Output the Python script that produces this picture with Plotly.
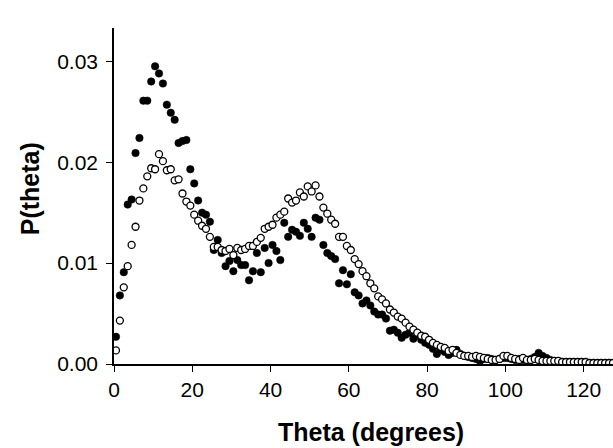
import plotly.graph_objects as go

theta = [i + 0.5 for i in range(128)]

p_filled = [
    0.0027, 0.0068, 0.0091, 0.0158, 0.0163, 0.0209, 0.0224, 0.0261, 0.0261, 0.0280,
    0.0295, 0.0288, 0.0278, 0.0257, 0.0249, 0.0242, 0.0219, 0.0221, 0.0222, 0.0193,
    0.0179, 0.0162, 0.0150, 0.0148, 0.0141, 0.0113, 0.0123, 0.0110, 0.0097, 0.0102,
    0.0092, 0.0103, 0.0098, 0.0098, 0.0083, 0.0092, 0.0110, 0.0091, 0.0115, 0.0100,
    0.0118, 0.0112, 0.0103, 0.0140, 0.0126, 0.0133, 0.0131, 0.0127, 0.0140, 0.0134,
    0.0126, 0.0145, 0.0143, 0.0118, 0.0110, 0.0107, 0.0104, 0.0080, 0.0093, 0.0079,
    0.0089, 0.0071, 0.0068, 0.0060, 0.0063, 0.0058, 0.0052, 0.0049, 0.0049, 0.0045,
    0.0033, 0.0034, 0.0031, 0.0026, 0.0029, 0.0031, 0.0025, 0.0029, 0.0024, 0.0021,
    0.0019, 0.0015, 0.0010, 0.0014, 0.0012, 0.0009, 0.0011, 0.0014, 0.0010, 0.0008,
    0.0007, 0.0006, 0.0005, 0.0003, 0.0005, 0.0006, 0.0005, 0.0004, 0.0005, 0.0006,
    0.0006, 0.0005, 0.0004, 0.0005, 0.0004, 0.0004, 0.0005, 0.0007, 0.0011, 0.0008,
    0.0006, 0.0004, 0.0003, 0.0003, 0.0002, 0.0002, 0.0002, 0.0002, 0.0002, 0.0002,
    0.0001, 0.0001, 0.0001, 0.0001, 0.0001, 0.0001, 0.0001, 0.0001,
]

p_open = [
    0.00135, 0.0043, 0.0076, 0.0097, 0.0118, 0.0136, 0.0162, 0.0174, 0.0186, 0.0194,
    0.0193, 0.0208, 0.0201, 0.0192, 0.0193, 0.0182, 0.0183, 0.0169, 0.0161, 0.0157,
    0.0148, 0.0142, 0.0137, 0.0134, 0.0126, 0.0116, 0.0116, 0.0113, 0.0112, 0.0114,
    0.0108, 0.0115, 0.0113, 0.0114, 0.0117, 0.0117, 0.0121, 0.0125, 0.0134, 0.0136,
    0.0138, 0.0145, 0.0148, 0.0151, 0.0164, 0.0160, 0.0162, 0.0170, 0.0166, 0.0176,
    0.0171, 0.0177, 0.0166, 0.0155, 0.0149, 0.0143, 0.0139, 0.0126, 0.0126, 0.0117,
    0.0113, 0.0104, 0.0099, 0.0092, 0.0087, 0.0080, 0.0075, 0.0067, 0.0064, 0.0060,
    0.0054, 0.0051, 0.0047, 0.0045, 0.0041, 0.0037, 0.0034, 0.0031, 0.0028, 0.0027,
    0.0024, 0.0021, 0.0019, 0.0017, 0.0016, 0.0013, 0.0014, 0.0011, 0.0009, 0.0008,
    0.0008, 0.0007, 0.0008, 0.0007, 0.0006, 0.0005, 0.0004, 0.0004, 0.0005, 0.0008,
    0.0008, 0.0006, 0.0005, 0.0004, 0.0006, 0.0004, 0.0004, 0.0005, 0.0004, 0.0003,
    0.0003, 0.0003, 0.0003, 0.0003, 0.0002, 0.0002, 0.0002, 0.0002, 0.0002, 0.0002,
    0.0002, 0.0001, 0.0001, 0.0001, 0.0001, 0.0001, 0.0001, 0.0001,
]

x_ticks = [0, 20, 40, 60, 80, 100, 120]
y_ticks = [0.00, 0.01, 0.02, 0.03]
y_tick_labels = ["0.00", "0.01", "0.02", "0.03"]

fig = go.Figure()
fig.add_trace(go.Scatter(
    x=theta, y=p_filled, mode="markers",
    marker=dict(symbol="circle", size=7.5, color="black", line=dict(color="black", width=0.5)),
    showlegend=False, cliponaxis=True,
))
fig.add_trace(go.Scatter(
    x=theta, y=p_open, mode="markers",
    marker=dict(symbol="circle", size=7, color="white", line=dict(color="black", width=1.3)),
    showlegend=False, cliponaxis=True,
))

font_family = "Liberation Sans, Arial, sans-serif"

fig.update_layout(
    width=613, height=448,
    margin=dict(l=114, r=0, t=28, b=84),
    plot_bgcolor="white", paper_bgcolor="white",
    font=dict(family=font_family, color="black"),
    xaxis=dict(
        range=[0, 127.5], tickvals=x_ticks, ticks="outside", ticklen=6, tickwidth=1.3,
        tickcolor="black", showline=True, linecolor="black", linewidth=1.5,
        showgrid=False, zeroline=False, tickfont=dict(size=21, family=font_family),
    ),
    yaxis=dict(
        range=[0, 0.0333], tickvals=y_ticks, ticktext=y_tick_labels, ticks="outside",
        ticklen=6, tickwidth=1.3, tickcolor="black", showline=True, linecolor="black",
        linewidth=1.5, showgrid=False, zeroline=False, ticklabelstandoff=4,
        tickfont=dict(size=21, family=font_family),
    ),
    annotations=[
        dict(text="<b>Theta (degrees)</b>", xref="paper", yref="paper", x=0.515, y=0,
             yshift=-68, xanchor="center", yanchor="middle", showarrow=False,
             font=dict(size=25, family=font_family)),
        dict(text="<b>P(theta)</b>", xref="paper", yref="paper", x=0, xshift=-84,
             y=0.52, xanchor="center", yanchor="middle", textangle=-90, showarrow=False,
             font=dict(size=25, family=font_family)),
    ],
)

fig.write_html(
    "out.html",
    config={"displayModeBar": False},
    post_script="document.body.style.margin='0px';document.body.style.overflow='hidden';",
)
